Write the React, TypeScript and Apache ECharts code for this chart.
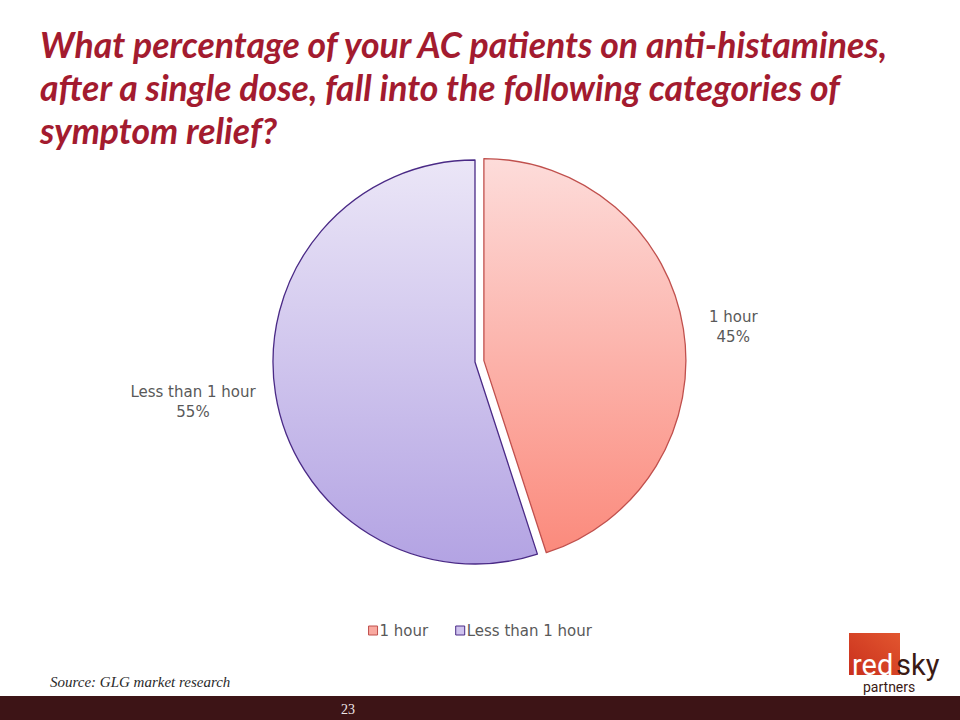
import React, { useEffect, useRef } from "react";
import * as echarts from "echarts";

const titleLines = [
  "What percentage of your AC patients on anti-histamines,",
  "after a single dose, fall into the following categories of",
  "symptom relief?",
];
const categories = ["1 hour", "Less than 1 hour"];
const values = [45, 55];
const sourceText = "Source: GLG market research";
const pageNumber = "23";

export default function App() {
  const ref = useRef<HTMLDivElement>(null);
  useEffect(() => {
    document.body.style.margin = "0";
    if (!ref.current) return;
    const chart = echarts.init(ref.current, undefined, { renderer: "svg" });
    const fills = [
      new echarts.graphic.LinearGradient(0, 0, 0, 1, [
        { offset: 0, color: "#fddcda" },
        { offset: 1, color: "#fb8a7c" },
      ]),
      new echarts.graphic.LinearGradient(0, 0, 0, 1, [
        { offset: 0, color: "#ebe6f7" },
        { offset: 1, color: "#b3a3e3" },
      ]),
    ];
    const borders = ["#c0504d", "#4a2a86"];
    const legendColors = ["#f9a9a0", "#cfc3ee"];
    const labelPos = [
      [722, 326],
      [193, 402],
    ];
    chart.setOption({
      animation: false,
      backgroundColor: "#ffffff",
      title: {
        text: titleLines.join("\n"),
        left: 40,
        top: 23,
        padding: 0,
        textStyle: {
          fontFamily: "Lato",
          fontStyle: "italic",
          fontWeight: "bold",
          fontSize: 35.6,
          lineHeight: 43,
          color: "#a31b2f",
        },
      },
      legend: {
        data: categories.map((c, i) => ({
          name: c,
          itemStyle: { color: legendColors[i], borderColor: borders[i], borderWidth: 1 },
        })),
        top: 618,
        left: "center",
        icon: "rect",
        itemWidth: 9,
        itemHeight: 9,
        itemGap: 27,
        selectedMode: false,
        textStyle: { fontFamily: "DejaVu Sans", fontSize: 15, color: "#595959", padding: [0, 0, 0, -3] },
      },
      series: [
        {
          type: "pie",
          center: [475, 362],
          radius: 202,
          startAngle: 90,
          clockwise: true,
          selectedMode: "single",
          selectedOffset: 9,
          emphasis: { disabled: true },
          data: categories.map((c, i) => ({
            name: c,
            value: values[i],
            selected: i === 0,
            itemStyle: { color: fills[i], borderColor: borders[i], borderWidth: 1.3 },
          })),
          label: {
            show: true,
            position: "outside",
            formatter: "{b}\n{d}%",
            fontFamily: "DejaVu Sans",
            fontSize: 15,
            lineHeight: 20,
            color: "#595959",
            align: "center",
          },
          labelLine: { show: false },
          labelLayout: (p: any) => ({
            x: labelPos[p.dataIndex][0],
            y: labelPos[p.dataIndex][1],
            align: "center",
            verticalAlign: "middle",
          }),
        },
      ],
      graphic: [
        {
          type: "rect",
          shape: { x: 0, y: 696, width: 960, height: 24 },
          style: { fill: "#3d1416" },
        },
        {
          type: "text",
          x: 348,
          y: 709,
          style: {
            text: pageNumber,
            fill: "#eee6e6",
            font: "14px 'Liberation Serif'",
            align: "center",
            verticalAlign: "middle",
          },
        },
        {
          type: "text",
          x: 50,
          y: 682,
          style: {
            text: sourceText,
            fill: "#2a2a2a",
            font: "italic 15px 'Liberation Serif'",
            verticalAlign: "middle",
          },
        },
        {
          type: "rect",
          shape: { x: 849, y: 633, width: 51, height: 42 },
          style: {
            fill: new echarts.graphic.LinearGradient(1, 0, 0, 1, [
              { offset: 0, color: "#e2562f" },
              { offset: 1, color: "#c9301d" },
            ]),
          },
        },
        {
          type: "text",
          x: 852,
          y: 679,
          style: { text: "red", fill: "#ffffff", font: "29px Roboto", verticalAlign: "bottom" },
        },
        {
          type: "text",
          x: 896,
          y: 679,
          style: { text: "sky", fill: "#3b1a14", font: "29px Roboto", verticalAlign: "bottom" },
        },
        {
          type: "text",
          x: 863,
          y: 680,
          style: { text: "partners", fill: "#3b1a14", font: "14px Roboto", verticalAlign: "top" },
        },
      ],
    });
    return () => chart.dispose();
  }, []);
  return <div ref={ref} style={{ width: 960, height: 720 }} />;
}
